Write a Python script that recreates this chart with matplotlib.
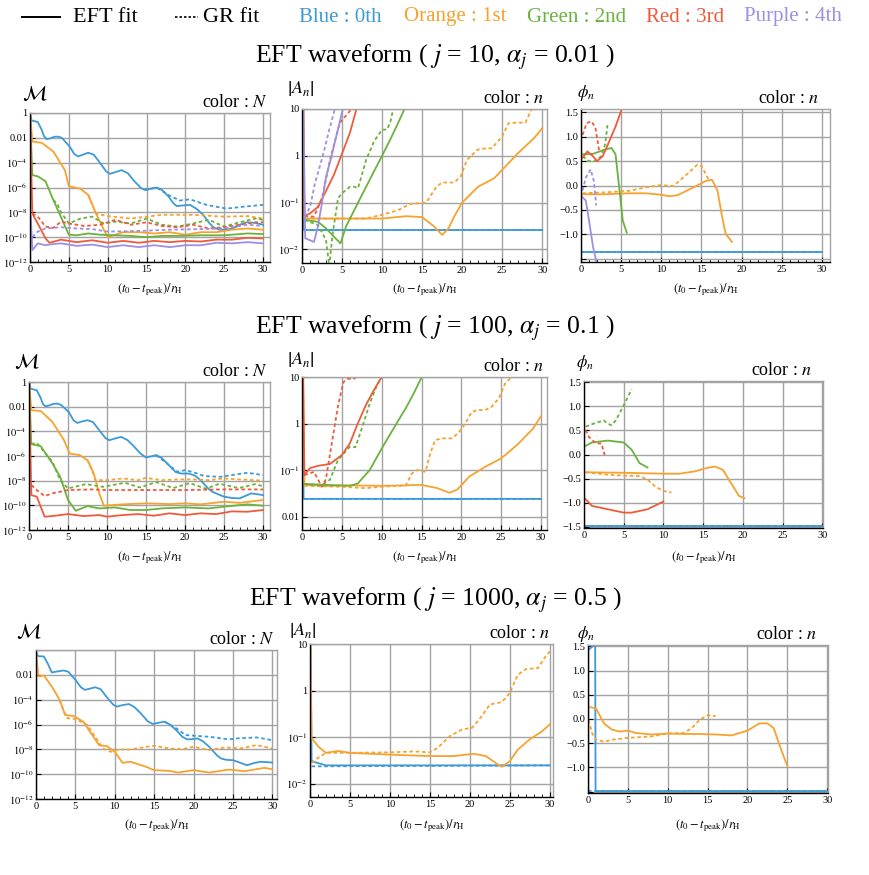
import numpy as np
import matplotlib.pyplot as plt
from matplotlib.lines import Line2D
from matplotlib.ticker import NullLocator, MultipleLocator

plt.rcParams['font.family'] = ['Liberation Serif', 'DejaVu Serif']
plt.rcParams['mathtext.fontset'] = 'stix'

COLORS = {'blue': '#3D9AD6', 'orange': '#F7A22E', 'green': '#6BB23C',
          'red': '#EE5B3A', 'purple': '#9D8FE4'}
NAMES = [('blue', 'Blue : 0th'), ('orange', 'Orange : 1st'), ('green', 'Green : 2nd'),
         ('red', 'Red : 3rd'), ('purple', 'Purple : 4th')]

TITLES = ['EFT waveform ( $j$ = 10, $\\alpha_j$ = 0.01 )',
          'EFT waveform ( $j$ = 100, $\\alpha_j$ = 0.1 )',
          'EFT waveform ( $j$ = 1000, $\\alpha_j$ = 0.5 )']

# mismatch M, log10 values ; "_gr" = GR fit (dashed)
M1 = {
    'blue': ([0, 0.2, 1, 1.5, 1.8, 2.1, 2.6, 3.1, 3.6, 4.1, 5.1, 5.7, 6.2, 6.7, 7.5, 8.2, 9, 9.8, 10.3, 10.8, 11.8, 12.6, 13.3, 14.3, 14.8, 15.4, 16.3, 17.0, 17.8, 18.5, 18.9, 19.6, 20.6, 21.4, 22.3, 23.0, 23.6, 24.4, 25.2, 26.1, 27.0, 27.9, 29, 30],
             [0, -0.6, -0.72, -1.35, -1.85, -2.1, -2.05, -1.92, -1.9, -2.0, -2.7, -3.3, -3.5, -3.38, -3.2, -3.35, -4.0, -4.7, -4.9, -4.8, -4.6, -4.85, -5.4, -6.05, -6.2, -6.12, -6.0, -6.2, -6.7, -7.3, -7.5, -7.45, -7.4, -7.7, -8.2, -8.8, -9.2, -9.4, -9.4, -9.3, -9.0, -8.8, -8.85, -9.0]),
    'blue_gr': ([14.8, 16.3, 17.8, 19.3, 20.6, 22.7, 25.3, 27.4, 30],
                [-6.2, -6.0, -6.6, -7.05, -6.95, -7.4, -7.7, -7.55, -7.4]),
    'orange': ([0, 0.3, 1.5, 3, 4.5, 5, 6.5, 7.5, 8.5, 9.5, 10, 12, 14, 16, 18, 20, 22, 24, 26, 28, 30],
               [0, -2.3, -2.4, -3.1, -4.6, -5.9, -6.1, -6.6, -8.1, -9.4, -10.0, -9.6, -9.6, -9.7, -9.6, -9.8, -9.6, -9.6, -9.4, -9.3, -9.4]),
    'orange_gr': ([7.5, 8.5, 10, 13, 17, 21, 25, 28, 30],
                  [-6.6, -8.1, -8.3, -8.5, -8.2, -8.2, -8.35, -8.3, -8.5]),
    'green': ([0, 0.3, 1, 2, 3, 4, 5, 6, 7.5, 9, 11, 13, 15, 17, 19, 22, 25, 28, 30],
              [0, -5.0, -5.1, -5.5, -7.0, -8.4, -9.8, -9.85, -9.7, -9.8, -9.85, -9.9, -10.0, -9.9, -9.9, -9.85, -9.85, -9.7, -9.75]),
    'green_gr': ([3, 3.5, 4, 5, 6.5, 8, 9.5, 11, 13, 15, 17, 19, 21, 23, 25, 27, 29, 30],
                 [-7.0, -7.3, -8.0, -8.9, -8.5, -8.35, -8.9, -8.75, -8.9, -8.5, -9.0, -9.15, -8.9, -8.6, -9.15, -8.8, -8.5, -8.6]),
    'red': ([0, 0.3, 1, 2, 2.5, 4, 6, 8, 10, 12, 14, 16, 18, 20, 22, 24, 26, 28, 30],
            [0, -8.1, -8.9, -10.1, -10.45, -10.2, -10.4, -10.25, -10.45, -10.3, -10.45, -10.3, -10.4, -10.3, -10.35, -10.2, -10.2, -10.05, -10.1]),
    'red_gr': ([0.3, 1, 2, 3, 4, 5, 7, 9, 11, 13, 15, 17, 19, 21, 23, 25, 27, 29, 30],
               [-8.1, -8.35, -9.15, -9.25, -8.75, -8.9, -9.1, -9.0, -8.6, -9.0, -8.8, -9.1, -9.2, -9.0, -9.3, -9.2, -9.0, -8.8, -8.8]),
    'purple': ([0.1, 0.3, 1, 2, 3, 4, 6, 8, 10, 12, 14, 16, 18, 20, 22, 24, 26, 28, 30],
               [-8.3, -11.05, -10.5, -10.65, -10.55, -10.5, -10.7, -10.6, -10.8, -10.65, -10.8, -10.65, -10.8, -10.65, -10.65, -10.45, -10.5, -10.4, -10.5]),
    'purple_gr': ([0.3, 1, 2, 4, 6, 8, 10, 14, 18, 22, 25, 28, 30],
                  [-10.0, -9.55, -9.3, -9.2, -9.3, -9.35, -9.55, -9.5, -9.4, -9.35, -9.3, -9.0, -9.1]),
}
M2 = {
    'blue': ([0, 0.2, 1, 1.5, 1.8, 2.1, 2.6, 3.1, 3.6, 4.1, 5.1, 5.7, 6.2, 6.7, 7.5, 8.2, 9, 9.8, 10.3, 10.8, 11.8, 12.6, 13.3, 14.3, 15, 15.5, 16.3, 17.0, 17.8, 18.8, 19.5, 20.5, 21.3, 22, 23, 23.5, 25, 26, 27, 28.5, 30],
             [0, -0.54, -0.67, -1.3, -1.8, -1.97, -1.9, -1.78, -1.75, -1.85, -2.43, -3.1, -3.32, -3.22, -3.1, -3.25, -3.9, -4.55, -4.72, -4.62, -4.45, -4.7, -5.12, -5.8, -6.12, -6.05, -5.93, -6.15, -6.66, -7.3, -7.42, -7.42, -7.6, -7.96, -8.65, -8.9, -9.3, -9.4, -9.44, -9.03, -9.17]),
    'blue_gr': ([16.3, 17.8, 19, 20, 21, 22.5, 24.5, 26, 28, 30],
                [-5.93, -6.66, -7.28, -7.15, -7.3, -7.63, -7.69, -7.55, -7.36, -7.55]),
    'orange': ([0, 0.3, 1.5, 3, 4.5, 5.2, 6.5, 7.5, 8.3, 9, 9.6, 12, 15, 18, 20, 22, 25, 27, 30],
               [0, -2.29, -2.35, -3.24, -4.72, -5.8, -5.93, -6.34, -7.42, -9.03, -10.03, -9.92, -9.84, -9.9, -9.84, -9.92, -9.71, -9.8, -9.57]),
    'orange_gr': ([7.5, 8.3, 8.5, 10, 12, 14, 15, 17, 19, 21, 23, 25, 27, 29, 30],
                  [-6.34, -7.5, -7.96, -7.96, -7.82, -7.96, -7.77, -7.96, -7.9, -7.9, -7.96, -7.82, -7.9, -7.96, -8.0]),
    'green': ([0, 0.3, 1.5, 3, 4, 5, 6, 7.5, 9, 11, 13, 15, 17, 20, 23, 25, 28, 30],
              [0, -5.04, -5.2, -6.6, -7.69, -9.57, -10.44, -10.06, -10.25, -10.17, -10.38, -10.38, -10.25, -10.17, -10.25, -10.11, -9.92, -10.03]),
    'green_gr': ([0.3, 1, 3, 4, 5, 7.3, 9.5, 12.3, 14.2, 16.3, 18.5, 20.6, 22.7, 24.4, 26.9, 29, 30],
                 [-5.04, -4.93, -6.47, -7.96, -8.63, -8.28, -8.5, -8.17, -8.55, -8.12, -8.6, -8.2, -8.65, -8.25, -8.6, -8.28, -8.45]),
    'red': ([0, 0.3, 1, 2, 3, 5, 7, 9, 10, 12, 14, 16, 18, 20, 22, 24, 26, 28, 30],
            [0, -9.17, -9.3, -10.92, -10.87, -10.71, -10.87, -10.79, -10.92, -10.79, -10.71, -10.84, -10.65, -10.79, -10.65, -10.71, -10.49, -10.52, -10.38]),
    'red_gr': ([0.3, 1, 2, 3, 5, 8, 10, 15, 20, 25, 30],
               [-8.36, -8.76, -9.25, -9.03, -8.76, -8.71, -8.76, -8.76, -8.76, -8.71, -8.71]),
}
M3 = {
    'blue': ([0.05, 0.3, 1, 1.5, 2, 2.5, 3.5, 4.1, 5, 5.7, 6.2, 6.8, 7.5, 8.2, 9, 9.8, 10.3, 10.9, 11.8, 12.5, 13.3, 14.2, 14.8, 15.4, 16.3, 17, 17.8, 18.6, 19.2, 19.8, 20.5, 21.2, 22, 23, 23.5, 24.2, 25, 26, 26.8, 27.7, 28.5, 30],
             [-0.25, -0.5, -0.52, -1.1, -1.81, -1.75, -1.65, -1.75, -2.4, -3.0, -3.21, -3.12, -3.0, -3.15, -3.81, -4.4, -4.56, -4.45, -4.35, -4.6, -5.1, -5.75, -5.96, -5.88, -5.77, -6.0, -6.45, -7.0, -7.2, -7.18, -7.12, -7.35, -7.8, -8.5, -8.74, -8.85, -8.87, -9.1, -9.28, -9.1, -9.0, -9.06]),
    'blue_gr': ([16.3, 17.8, 19, 20, 22, 24.5, 25.5, 28, 30],
                [-5.77, -6.31, -6.85, -6.9, -6.99, -7.2, -7.12, -7.04, -7.26]),
    'orange': ([0, 0.3, 1, 2, 3, 3.7, 4.8, 6, 7, 8, 9, 10, 11, 12, 14, 15, 17, 18, 20, 22, 24.5, 26.5, 29, 30],
               [0, -2.13, -2.05, -2.94, -4.02, -5.23, -5.32, -5.77, -6.72, -7.66, -7.74, -8.2, -9.09, -9.0, -9.41, -9.68, -9.74, -9.87, -9.68, -9.87, -9.63, -9.76, -9.49, -9.6]),
    'orange_gr': ([3, 3.5, 4, 5, 6.5, 7.5, 8.5, 9.5, 10.5, 12, 14, 15, 17, 18.5, 20, 22, 24, 26, 28, 30],
                  [-4.02, -4.9, -5.5, -5.55, -6.04, -6.99, -7.93, -8.2, -8.01, -8.01, -7.8, -7.72, -7.93, -7.99, -7.8, -8.06, -7.85, -7.93, -7.66, -7.93]),
}

# |A_n|, log10 values
A1 = {
    'blue': ([0.15, 0.2, 30], [1.3, -1.586, -1.586]),
    'blue_gr': ([0.2, 30], [-1.58, -1.58]),
    'orange': ([0.2, 0.3, 5, 10, 13, 15, 16.5, 17.5, 18.3, 19, 20, 22, 24, 25, 27, 29, 30],
               [1.3, -1.34, -1.34, -1.34, -1.29, -1.31, -1.51, -1.69, -1.55, -1.3, -1.0, -0.66, -0.48, -0.3, 0.06, 0.38, 0.59]),
    'orange_gr': ([0.3, 8, 10, 12, 13.5, 15.5, 16.8, 17.5, 19, 19.8, 20.6, 21.9, 22.9, 23.7, 25, 25.8, 27, 27.9, 28.7],
                  [-1.34, -1.34, -1.26, -1.16, -1.03, -1.0, -0.66, -0.57, -0.57, -0.45, -0.09, 0.13, 0.16, 0.16, 0.41, 0.7, 0.71, 0.71, 1.0]),
    'green': ([0.3, 2, 3, 4, 4.8, 5.5, 7, 9, 10, 11, 12, 12.8],
              [-1.37, -1.41, -1.55, -1.73, -1.87, -1.51, -1.0, -0.33, 0.0, 0.34, 0.7, 1.0]),
    'green_gr': ([0.3, 2, 3, 3.4, 3.8, 4.5, 5, 6, 6.5, 7, 8, 9, 10, 10.6, 11, 11.4],
                 [-1.37, -1.48, -1.8, -2.35, -1.7, -0.91, -0.8, -0.66, -0.66, -0.69, -0.09, 0.31, 0.56, 0.56, 0.7, 1.0]),
    'red': ([0.1, 0.3, 1, 2, 3, 4, 4.9, 6, 6.8],
            [1.3, -1.29, -1.23, -1.09, -0.75, -0.4, 0.0, 0.5, 1.0]),
    'red_gr': ([0.3, 1.5, 2.5, 3.5, 4.7, 5.6, 6.2],
               [-1.29, -1.3, -0.9, -0.09, 0.7, 0.88, 1.0]),
    'purple': ([0.15, 0.4, 1.5, 2, 2.5, 3, 3.7, 4.4, 5.1],
               [1.3, -1.76, -1.84, -1.5, -1.0, -0.45, 0.0, 0.5, 1.0]),
    'purple_gr': ([0.3, 1, 1.6, 2.6, 3.4, 4.1],
                  [-1.3, -1.1, -0.6, 0.0, 0.55, 1.0]),
}
A2 = {
    'blue': ([0.1, 0.2, 30], [1.3, -1.62, -1.62]),
    'blue_gr': ([0.2, 30], [-1.62, -1.62]),
    'orange': ([0.15, 0.3, 3, 6, 10, 13, 15, 17, 18.5, 19.5, 21, 23, 25, 27, 29, 30],
               [1.3, -1.32, -1.34, -1.33, -1.34, -1.33, -1.32, -1.39, -1.49, -1.42, -1.14, -0.93, -0.75, -0.46, -0.11, 0.16]),
    'orange_gr': ([0.3, 5, 8, 10, 12, 13, 13.8, 14.5, 15.5, 16.1, 16.7, 17.5, 18.8, 19.6, 20.5, 21.3, 22.1, 23, 23.8, 24.7, 25.5, 26.3],
                  [-1.34, -1.36, -1.39, -1.36, -1.34, -1.34, -1.07, -1.0, -1.04, -0.64, -0.36, -0.32, -0.32, -0.21, 0.0, 0.25, 0.29, 0.29, 0.36, 0.54, 0.86, 1.0]),
    'green': ([0.3, 3, 6, 7, 8.5, 10, 11, 12, 13, 14, 15],
              [-1.3, -1.32, -1.34, -1.29, -1.0, -0.54, -0.25, 0.04, 0.32, 0.64, 0.99]),
    'green_gr': ([0.3, 2.5, 3.5, 4.5, 6, 6.7, 7.5, 8.5, 9.5, 10],
                 [-1.3, -1.32, -1.21, -0.79, -0.5, -0.51, -0.11, 0.43, 0.86, 1.0]),
    'red': ([0.1, 0.3, 1, 2, 3.5, 5, 6, 7, 8, 9, 10],
            [1.3, -1.11, -0.96, -0.91, -0.87, -0.68, -0.43, 0.0, 0.39, 0.71, 1.0]),
    'red_gr': ([0.3, 1.5, 2.5, 3, 3.8, 4.5, 5.2, 5.7, 6.5, 6.8],
               [-1.11, -1.04, -1.36, -1.2, -0.36, 0.36, 0.89, 0.96, 0.96, 1.0]),
}
A3 = {
    'blue': ([0.05, 0.2, 1, 2, 30], [1.3, -1.52, -1.56, -1.61, -1.61]),
    'blue_gr': ([0.2, 1, 2, 30], [-1.63, -1.63, -1.63, -1.61]),
    'orange': ([0.05, 0.2, 1, 2, 3.5, 5, 10, 15, 18, 20.5, 22, 23.5, 24, 25, 26, 27.5, 29, 30],
               [1.3, -1.02, -1.2, -1.34, -1.3, -1.34, -1.38, -1.41, -1.41, -1.36, -1.41, -1.59, -1.64, -1.52, -1.27, -1.05, -0.88, -0.73]),
    'orange_gr': ([0.2, 1, 2, 5, 10, 13, 15, 16, 17.5, 19, 20.3, 21.5, 22.5, 24, 25, 26, 27, 28.5, 29.5, 30],
                  [-1.56, -1.45, -1.34, -1.34, -1.33, -1.31, -1.33, -1.23, -0.98, -0.84, -0.8, -0.55, -0.3, -0.25, -0.05, 0.34, 0.46, 0.48, 0.74, 0.84]),
}

# phase phi_n
P1 = {
    'blue': ([0, 30], [-1.36, -1.36]),
    'blue_gr': ([0, 30], [-1.36, -1.36]),
    'orange': ([0.2, 3, 6, 8, 10, 11, 12, 14, 15.5, 16.3, 17, 17.5, 18, 18.8],
               [-0.18, -0.18, -0.16, -0.16, -0.19, -0.22, -0.2, -0.04, 0.09, 0.12, -0.11, -0.58, -0.99, -1.16]),
    'orange_gr': ([0.2, 3, 6, 8, 10, 11.5, 13, 14.5, 15, 16],
                  [-0.16, -0.14, -0.11, -0.04, 0.01, -0.01, 0.2, 0.43, 0.4, 0.09]),
    'green': ([0.2, 1.5, 3, 3.8, 4.3, 4.8, 5.2, 5.7],
              [0.64, 0.65, 0.74, 0.77, 0.64, -0.11, -0.72, -0.97]),
    'green_gr': ([0.2, 1, 1.8, 2.5, 3, 3.3], [0.6, 0.5, 0.5, 0.6, 0.84, 1.24]),
    'red': ([0.2, 0.8, 1.5, 2, 2.7, 3.5, 4.3, 5.1], [0.57, 0.7, 0.6, 0.5, 0.6, 0.9, 1.21, 1.58]),
    'red_gr': ([0.2, 0.7, 1.3, 1.8, 2.3], [1.04, 1.28, 1.32, 1.18, 0.67]),
    'purple': ([0.2, 0.6, 1, 1.5, 1.9], [-0.24, -0.31, -0.72, -1.26, -1.56]),
    'purple_gr': ([0.2, 0.6, 1.2, 1.6, 1.9], [-0.1, 0.16, 0.33, 0.09, -0.41]),
}
P2 = {
    'blue': ([0.05, 0.05, 30], [1.52, -1.49, -1.49]),
    'blue_gr': ([0.05, 30], [-1.49, -1.49]),
    'orange': ([0.2, 5, 10, 12, 14, 15.5, 16.5, 17.5, 18.5, 19.5, 20.2],
               [-0.37, -0.38, -0.4, -0.4, -0.35, -0.28, -0.25, -0.32, -0.59, -0.86, -0.91]),
    'orange_gr': ([0.2, 3, 5, 7, 8, 9, 10, 11], [-0.37, -0.42, -0.44, -0.45, -0.52, -0.67, -0.76, -0.79]),
    'green': ([0.2, 1, 3, 5, 6, 7, 8], [0.18, 0.25, 0.29, 0.25, 0.1, -0.18, -0.27]),
    'green_gr': ([0.2, 1, 2.5, 3, 3.5, 4, 5, 6], [0.58, 0.63, 0.71, 0.64, 0.61, 0.71, 1.02, 1.36]),
    'red': ([0.2, 1, 3, 5, 6, 8, 10], [-0.93, -1.07, -1.14, -1.21, -1.21, -1.14, -0.98]),
    'red_gr': ([0.2, 0.6, 1.5, 2.2, 2.6], [0.51, 0.37, 0.23, 0.23, -0.01]),
}
P3 = {
    'blue': ([0.03, 0.03, 0.9, 0.95, 30], [-1.49, 1.42, 1.56, -1.49, -1.49]),
    'blue_gr': ([0.03, 30], [-1.49, -1.49]),
    'orange': ([0.1, 1, 2, 3, 4, 5, 6, 8, 10, 12, 14, 16, 18, 20, 21.5, 22.5, 23.3, 24, 24.6, 25],
               [0.25, 0.22, -0.09, -0.22, -0.26, -0.24, -0.29, -0.32, -0.3, -0.31, -0.31, -0.32, -0.34, -0.24, -0.09, -0.09, -0.19, -0.53, -0.8, -0.97]),
    'orange_gr': ([0.1, 0.5, 1, 2, 3, 5, 8, 10, 12, 13, 14, 15, 16],
                  [-0.02, -0.29, -0.43, -0.47, -0.43, -0.39, -0.36, -0.3, -0.29, -0.19, -0.02, 0.08, 0.06]),
}

# layout, pixel boxes (left, top, right, bottom)
W, H = 870, 875
BOXES = [[(30, 113, 270, 262), (302, 109, 547, 263), (581, 109, 830, 262)],
         [(29, 382, 270, 530), (302, 377, 547, 530), (584, 381, 823, 528)],
         [(36, 650, 277, 799), (310, 644, 553, 797), (588, 645, 828, 793)]]
XMAX = [[30.9, 30.6, 31.0], [30.9, 30.75, 30.1], [30.6, 30.4, 30.1]]
TITLE_Y = [57, 328, 600]
XLAB_Y = [290, 558, 826]
GRID = '#a3a3a3'


def fx(x):
    return x / W


def fy(y):
    return 1 - y / H


def make_axes(fig, box):
    l, t, r, b = box
    return fig.add_axes([fx(l), fy(b), (r - l) / W, (b - t) / H])


def style(ax, xmax):
    ax.set_xlim(0, xmax)
    ax.set_xticks([0, 5, 10, 15, 20, 25, 30])
    ax.xaxis.set_minor_locator(MultipleLocator(1))
    ax.grid(True, which='major', color=GRID, lw=1.0)
    ax.set_axisbelow(True)
    ax.tick_params(which='both', direction='in', labelsize=7.5, pad=2, top=False, right=False)
    ax.tick_params(which='major', length=3.5, width=0.8)
    ax.tick_params(which='minor', length=2, width=0.6)
    for s in ['top', 'right']:
        ax.spines[s].set_color(GRID)
        ax.spines[s].set_linewidth(1.0)
    for s in ['left', 'bottom']:
        ax.spines[s].set_linewidth(1.0)


def draw(ax, data, log=True):
    for key, (xs, ys) in data.items():
        name = key.split('_')[0]
        ys = np.array(ys, dtype=float)
        if log:
            ys = 10 ** ys
        if key.endswith('_gr'):
            ax.plot(xs, ys, color=COLORS[name], lw=1.3, dashes=(2.0, 1.5))
        else:
            ax.plot(xs, ys, color=COLORS[name], lw=1.3)


def corner_text(fig, ax, txt, box, dx):
    l, t, r, b = box
    fig.text(fx(r - dx), fy(t - 6), txt, ha='right', va='baseline', fontsize=13)


fig = plt.figure(figsize=(W / 100, H / 100), dpi=100)

M_DATA = [M1, M2, M3]
A_DATA = [A1, A2, A3]
P_DATA = [P1, P2, P3]
M_LAB = [(35, 95), (27, 363), (29, 633)]
A_LAB = [(301, 88), (301, 359), (303, 631)]
P_LAB = [(586, 93), (585, 363), (586, 634)]
PHI_LIM = [(-np.pi / 2, np.pi / 2), (-1.53, 1.53), (-1.53, 1.53)]
xlab = r'$(t_0-t_{\mathrm{peak}})/r_{\mathrm{H}}$'

for row in range(3):
    # mismatch
    box = BOXES[row][0]
    ax = make_axes(fig, box)
    draw(ax, M_DATA[row])
    ax.set_yscale('log')
    ax.set_ylim(1e-12, 1)
    mt = [1, 1e-2, 1e-4, 1e-6, 1e-8, 1e-10, 1e-12]
    ml = ['1', '0.01', '$10^{-4}$', '$10^{-6}$', '$10^{-8}$', '$10^{-10}$', '$10^{-12}$']
    if row == 2:
        ml[0] = ''
    ax.set_yticks(mt)
    ax.set_yticklabels(ml)
    ax.yaxis.set_minor_locator(NullLocator())
    style(ax, XMAX[row][0])
    fig.text(fx(M_LAB[row][0]), fy(M_LAB[row][1]), r'$\mathcal{M}$', ha='center', va='center', fontsize=15)
    corner_text(fig, ax, 'color : $N$', box, 2)
    fig.text(fx((box[0] + box[2]) / 2), fy(XLAB_Y[row]), xlab, ha='center', va='center', fontsize=9)

    # amplitudes
    box = BOXES[row][1]
    ax = make_axes(fig, box)
    draw(ax, A_DATA[row])
    ax.set_yscale('log')
    ax.set_ylim(10 ** -2.29, 10)
    al = ['10', '1', '$10^{-1}$', '$10^{-2}$']
    if row == 1:
        al[3] = '0.01'
    ax.set_yticks([10, 1, 0.1, 0.01])
    ax.set_yticklabels(al)
    ax.yaxis.set_minor_locator(NullLocator())
    style(ax, XMAX[row][1])
    fig.text(fx(A_LAB[row][0]), fy(A_LAB[row][1]), r'$\left|A_n\right|$', ha='center', va='center', fontsize=13)
    corner_text(fig, ax, 'color : $n$', box, 2)
    fig.text(fx((box[0] + box[2]) / 2), fy(XLAB_Y[row]), xlab, ha='center', va='center', fontsize=9)

    # phases
    box = BOXES[row][2]
    ax = make_axes(fig, box)
    draw(ax, P_DATA[row], log=False)
    ax.set_ylim(*PHI_LIM[row])
    pt = [1.5, 1.0, 0.5, 0.0, -0.5, -1.0, -1.5]
    pl = ['1.5', '1.0', '0.5', '0.0', '\u22120.5', '\u22121.0', '\u22121.5']
    if row != 1:
        pl[-1] = ''
    ax.set_yticks(pt)
    ax.set_yticklabels(pl)
    style(ax, XMAX[row][2])
    fig.text(fx(P_LAB[row][0]), fy(P_LAB[row][1]), r'$\phi_n$', ha='center', va='center', fontsize=12)
    corner_text(fig, ax, 'color : $n$', box, 10)
    fig.text(fx((box[0] + box[2]) / 2), fy(XLAB_Y[row]), xlab, ha='center', va='center', fontsize=9)

    fig.text(fx(435), fy(TITLE_Y[row]), TITLES[row], ha='center', va='center', fontsize=18.5)

# top legend
fig.add_artist(Line2D([fx(22), fx(60)], [fy(17), fy(17)], color='black', lw=1.4))
fig.text(fx(73), fy(17), 'EFT fit', ha='left', va='center', fontsize=16)
fig.add_artist(Line2D([fx(175), fx(198)], [fy(17), fy(17)], color='black', lw=1.2, dashes=(1.5, 1.2)))
fig.text(fx(203), fy(17), 'GR fit', ha='left', va='center', fontsize=16)
lx = [299, 404, 527, 646, 744]
for (c, label), x in zip(NAMES, lx):
    fig.text(fx(x), fy(17), label, ha='left', va='center', fontsize=15, color=COLORS[c])

fig.savefig('out.png', dpi=100)
